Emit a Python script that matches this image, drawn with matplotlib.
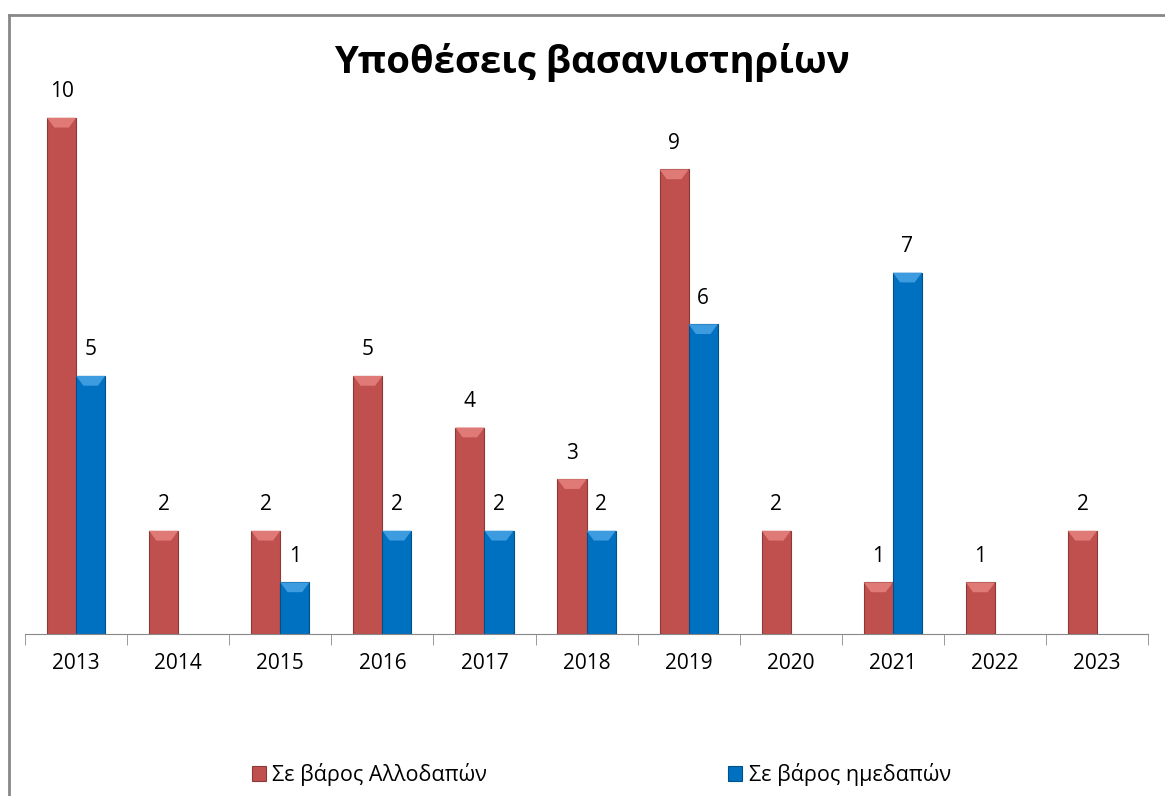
import matplotlib.pyplot as plt
import numpy as np
from matplotlib.patches import Polygon
from matplotlib.lines import Line2D

# data
years = ["2013", "2014", "2015", "2016", "2017", "2018", "2019", "2020", "2021", "2022", "2023"]
foreigners = [10, 2, 2, 5, 4, 3, 9, 2, 1, 1, 2]
nationals = [5, 0, 1, 2, 2, 2, 6, 0, 7, 0, 0]

plt.rcParams['font.family'] = ['Open Sans', 'DejaVu Sans']

fig = plt.figure(figsize=(11.65, 7.96), dpi=100)
ax = fig.add_axes([0.0215, 0.2035, 0.964, 0.681])

x = np.arange(len(years))
w = 0.285
red = "#C0504D"
blue = "#0070C0"


def bevel(bars, light):
    # lighter slanted cap on top of each bar
    for b in bars:
        h = b.get_height()
        if not h or np.isnan(h):
            continue
        x0, bw = b.get_x(), b.get_width()
        d = 0.19
        ax.add_patch(Polygon([(x0, h), (x0 + bw, h), (x0 + bw * 0.75, h - d),
                              (x0 + bw * 0.25, h - d)], closed=True,
                             facecolor=light, edgecolor="none", zorder=3))


bars_r = ax.bar(x - w / 2, foreigners, w, color=red, edgecolor="#8C3836", linewidth=0.8,
                label="Σε βάρος Αλλοδαπών", zorder=2)
nat = [v if v > 0 else np.nan for v in nationals]
bars_b = ax.bar(x + w / 2, nat, w, color=blue, edgecolor="#00508A", linewidth=0.8,
                label="Σε βάρος ημεδαπών", zorder=2)
bevel(bars_r, "#E07A76")
bevel(bars_b, "#3D9BE0")

# labels above bars
for i, v in enumerate(foreigners):
    ax.text(x[i] - w / 2, v + 0.3, str(v), ha="center", va="bottom", fontsize=15)
for i, v in enumerate(nationals):
    if v > 0:
        ax.text(x[i] + w / 2, v + 0.3, str(v), ha="center", va="bottom", fontsize=15)

ax.set_xlim(-0.5, len(years) - 0.5)
ax.set_ylim(0, 10.5)
ax.set_yticks([])
ax.set_xticks(x)
ax.set_xticklabels(years, fontsize=15)
ax.tick_params(axis="x", length=0, pad=14)
ax.set_xticks(np.arange(-0.5, len(years)), minor=True)
ax.tick_params(axis="x", which="minor", length=8, color="#888888")
for s in ["top", "right", "left"]:
    ax.spines[s].set_visible(False)
ax.spines["bottom"].set_color("#888888")

fig.text(0.508, 0.908, "Υποθέσεις βασανιστηρίων", ha="center", va="baseline",
         fontsize=27.5, fontweight="bold")

fig.legend(loc="center", bbox_to_anchor=(0.516, 0.027), ncol=2, frameon=False,
           fontsize=15.5, handlelength=0.65, handleheight=0.65, handletextpad=0.3,
           columnspacing=11.2)

# chart frame (top and left edges visible)
fig.add_artist(Line2D([0.0073, 1.0], [0.981, 0.981], transform=fig.transFigure,
                      color="#888888", linewidth=2))
fig.add_artist(Line2D([0.0073, 0.0073], [0.0, 0.981], transform=fig.transFigure,
                      color="#888888", linewidth=2))

fig.savefig("out.png", dpi=100)
